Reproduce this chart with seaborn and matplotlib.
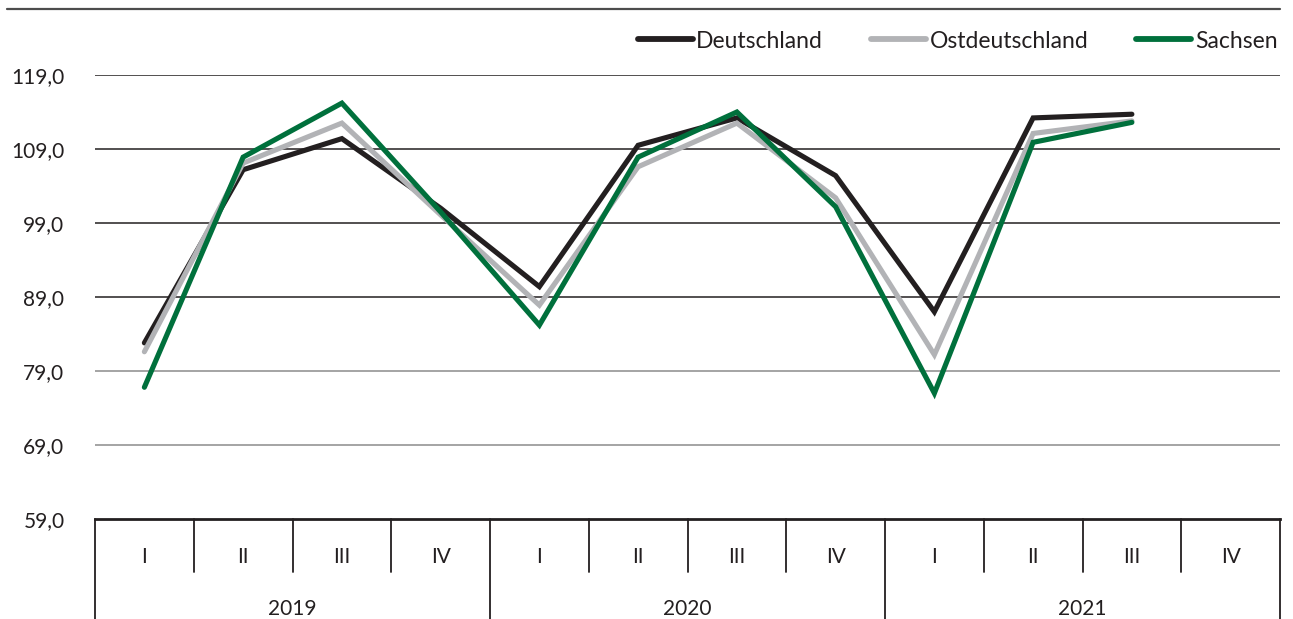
import matplotlib.pyplot as plt
import matplotlib.transforms as mtransforms
from matplotlib.lines import Line2D
import numpy as np
import pandas as pd
import seaborn as sns

# Quartale und Jahre
quartale = ["I", "II", "III", "IV"] * 3
jahre = ["2019", "2020", "2021"]

# Werte je Quartal (Q4 2021 fehlt)
deutschland = [82.8, 106.2, 110.4, 101.0, 90.4, 109.5, 113.2, 105.4, 87.0, 113.2, 113.7, np.nan]
ostdeutschland = [81.6, 107.1, 112.5, 100.1, 87.9, 106.6, 112.5, 102.4, 81.2, 111.1, 112.8, np.nan]
sachsen = [76.8, 107.9, 115.2, 100.5, 85.2, 107.9, 114.0, 101.2, 76.0, 109.9, 112.6, np.nan]

y_ticks = [59, 69, 79, 89, 99, 109, 119]
serien = ["Deutschland", "Ostdeutschland", "Sachsen"]
farben = ["#231f20", "#b2b3b6", "#00703c"]

df = pd.DataFrame({
    "pos": list(range(12)) * 3,
    "wert": deutschland + ostdeutschland + sachsen,
    "serie": [s for s in serien for _ in range(12)],
})

sns.set_style("white")
plt.rcParams["font.family"] = ["Lato", "DejaVu Sans"]

fig = plt.figure(figsize=(12.93, 6.19), dpi=100)
ax = fig.add_axes([95 / 1293, 1 - 519 / 619, (1280 - 95) / 1293, 444 / 619])

# Gitterlinien
for v in y_ticks[1:]:
    ax.axhline(v, color="#231f20" if v >= 89 else "#8c8c8c", lw=1.1, zorder=1)

sns.lineplot(data=df, x="pos", y="wert", hue="serie", hue_order=serien,
             palette=farben, linewidth=3.7, ax=ax, legend=False, zorder=3,
             solid_capstyle="round", solid_joinstyle="miter")

ax.set_xlim(-0.5, 11.5)
ax.set_ylim(59, 119)
ax.set_yticks(y_ticks)
ax.set_yticklabels([f"{v:.1f}".replace(".", ",") for v in y_ticks], fontsize=15, color="#231f20")
ax.tick_params(axis="y", length=0, pad=22)
ax.set_xticks([])
ax.set_xlabel("")
ax.set_ylabel("")
for s in ["top", "right", "left"]:
    ax.spines[s].set_visible(False)
ax.spines["bottom"].set_color("#231f20")
ax.spines["bottom"].set_linewidth(2)

# Kategorienachse mit zwei Ebenen
trans = mtransforms.blended_transform_factory(ax.transData, ax.transAxes)
for i in range(12):
    ax.text(i, -0.086, quartale[i], transform=trans, ha="center", va="center",
            fontsize=15, color="#231f20")
    if i % 4 != 0:
        ax.plot([i - 0.5, i - 0.5], [0, -0.119], transform=trans, color="#231f20",
                lw=1.3, clip_on=False)
for j, jahr in enumerate(jahre):
    ax.text(4 * j + 1.5, -0.203, jahr, transform=trans, ha="center", va="center",
            fontsize=15, color="#231f20")
for x in [-0.5, 3.5, 7.5, 11.5]:
    ax.plot([x, x], [0, -0.23], transform=trans, color="#231f20", lw=1.3, clip_on=False)

# Legende
handles = [Line2D([0], [0], color=c, lw=4.2, solid_capstyle="round") for c in farben]
fig.legend(handles, serien, loc="center right", bbox_to_anchor=(1298 / 1293, 1 - 41 / 619),
           ncol=3, frameon=False, fontsize=16.5, handlelength=2.4, handletextpad=0.15,
           columnspacing=2.1, labelcolor="#231f20")

# Linie oben
fig.add_artist(Line2D([7 / 1293, 1280 / 1293], [1 - 8.5 / 619] * 2, color="#4d4d4d", lw=1.6))

fig.savefig("out.png", dpi=100)
